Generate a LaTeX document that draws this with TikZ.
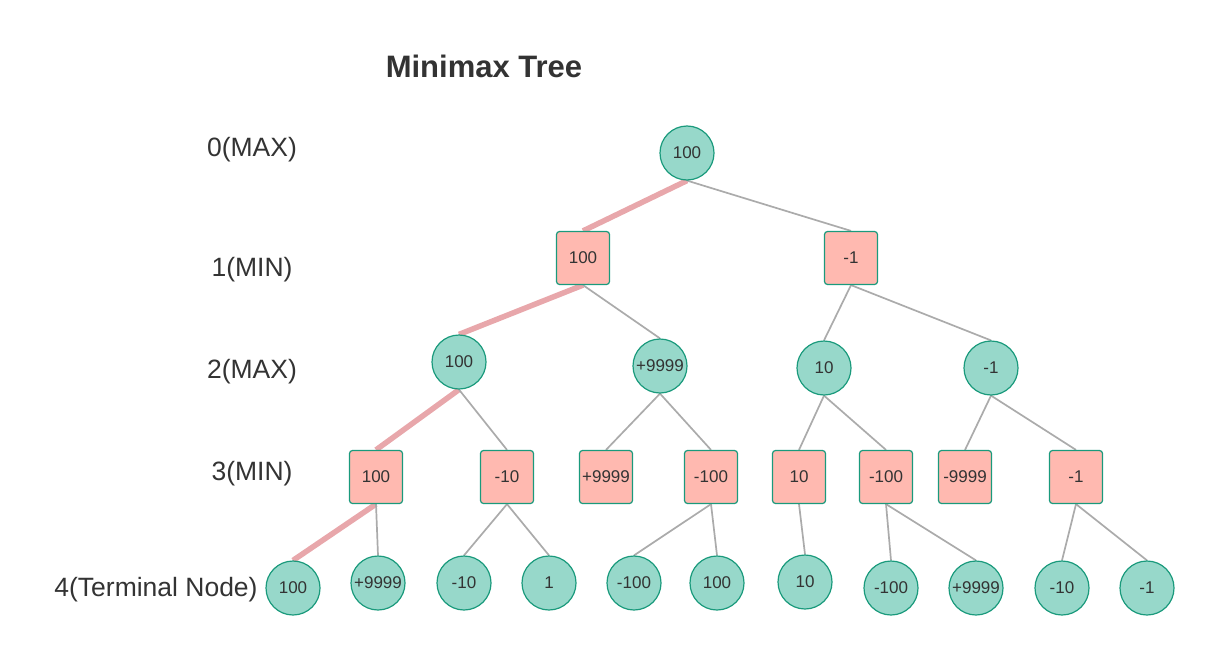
\documentclass[tikz,border=0pt]{standalone}
\usepackage{fontspec}
\setmainfont{Liberation Sans}
\usetikzlibrary{backgrounds}
\begin{document}
\begin{tikzpicture}[x=1pt,y=-1pt,
  maxnode/.style={circle,draw=tealborder,fill=tealfill,line width=1.2pt,minimum size=54pt,inner sep=0pt,font=\fontsize{17}{19}\selectfont,text=textc},
  minnode/.style={rectangle,rounded corners=3pt,draw=tealborder,fill=pinkfill,line width=1.2pt,minimum size=53pt,inner sep=0pt,font=\fontsize{17}{19}\selectfont,text=textc},
  edge/.style={draw=edgegray,line width=1.7pt},
  best/.style={draw=bestpink,line width=5.5pt},
  lvl/.style={font=\fontsize{26.5}{30}\selectfont,text=textc,inner sep=0pt}
]
\definecolor{tealborder}{HTML}{1A9A7C}
\definecolor{tealfill}{HTML}{97D8CA}
\definecolor{pinkfill}{HTML}{FFB9B0}
\definecolor{edgegray}{HTML}{ABABAB}
\definecolor{bestpink}{HTML}{E8A7AB}
\definecolor{textc}{HTML}{333333}
\useasboundingbox (0,0) rectangle (1214,661);
% title and level labels
\node[font=\bfseries\fontsize{31}{35}\selectfont,text=textc,inner sep=0pt] (title) at (484,66) {Minimax Tree};
\node[lvl] (l0) at (252,150) {0(MAX)};
\node[lvl] (l1) at (252,270) {1(MIN)};
\node[lvl] (l2) at (252,372) {2(MAX)};
\node[lvl] (l3) at (252,474) {3(MIN)};
\node[lvl] (l4) at (156,590) {4(Terminal Node)};
% level 0
\node[maxnode] (r) at (687,153) {100};
% level 1
\node[minnode] (a) at (583,258) {100};
\node[minnode] (b) at (851,258) {-1};
% level 2
\node[maxnode] (aa) at (459,362) {100};
\node[maxnode] (ab) at (660,366) {+9999};
\node[maxnode] (ba) at (824,368) {10};
\node[maxnode] (bb) at (991,368) {-1};
% level 3
\node[minnode] (aaa) at (376,477) {100};
\node[minnode] (aab) at (507,477) {-10};
\node[minnode] (aba) at (606,477) {+9999};
\node[minnode] (abb) at (711,477) {-100};
\node[minnode] (baa) at (799,477) {10};
\node[minnode] (bab) at (886,477) {-100};
\node[minnode] (bba) at (965,477) {-9999};
\node[minnode] (bbb) at (1076,477) {-1};
% level 4
\node[maxnode] (t1) at (293,588) {100};
\node[maxnode] (t2) at (378,583) {+9999};
\node[maxnode] (t3) at (464,583) {-10};
\node[maxnode] (t4) at (549,583) {1};
\node[maxnode] (t5) at (634,583) {-100};
\node[maxnode] (t6) at (717,583) {100};
\node[maxnode] (t7) at (805,582) {10};
\node[maxnode] (t8) at (891,588) {-100};
\node[maxnode] (t9) at (976,588) {+9999};
\node[maxnode] (t10) at (1062,588) {-10};
\node[maxnode] (t11) at (1147,588) {-1};
% edges behind nodes
\begin{scope}[on background layer]
\draw[best] (r.south) -- (a.north);
\draw[edge] (r.south) -- (b.north);
\draw[best] (a.south) -- (aa.north);
\draw[edge] (a.south) -- (ab.north);
\draw[edge] (b.south) -- (ba.north);
\draw[edge] (b.south) -- (bb.north);
\draw[best] (aa.south) -- (aaa.north);
\draw[edge] (aa.south) -- (aab.north);
\draw[edge] (ab.south) -- (aba.north);
\draw[edge] (ab.south) -- (abb.north);
\draw[edge] (ba.south) -- (baa.north);
\draw[edge] (ba.south) -- (bab.north);
\draw[edge] (bb.south) -- (bba.north);
\draw[edge] (bb.south) -- (bbb.north);
\draw[best] (aaa.south) -- (t1.north);
\draw[edge] (aaa.south) -- (t2.north);
\draw[edge] (aab.south) -- (t3.north);
\draw[edge] (aab.south) -- (t4.north);
\draw[edge] (abb.south) -- (t5.north);
\draw[edge] (abb.south) -- (t6.north);
\draw[edge] (baa.south) -- (t7.north);
\draw[edge] (bab.south) -- (t8.north);
\draw[edge] (bab.south) -- (t9.north);
\draw[edge] (bbb.south) -- (t10.north);
\draw[edge] (bbb.south) -- (t11.north);
\end{scope}
\end{tikzpicture}
\end{document}
